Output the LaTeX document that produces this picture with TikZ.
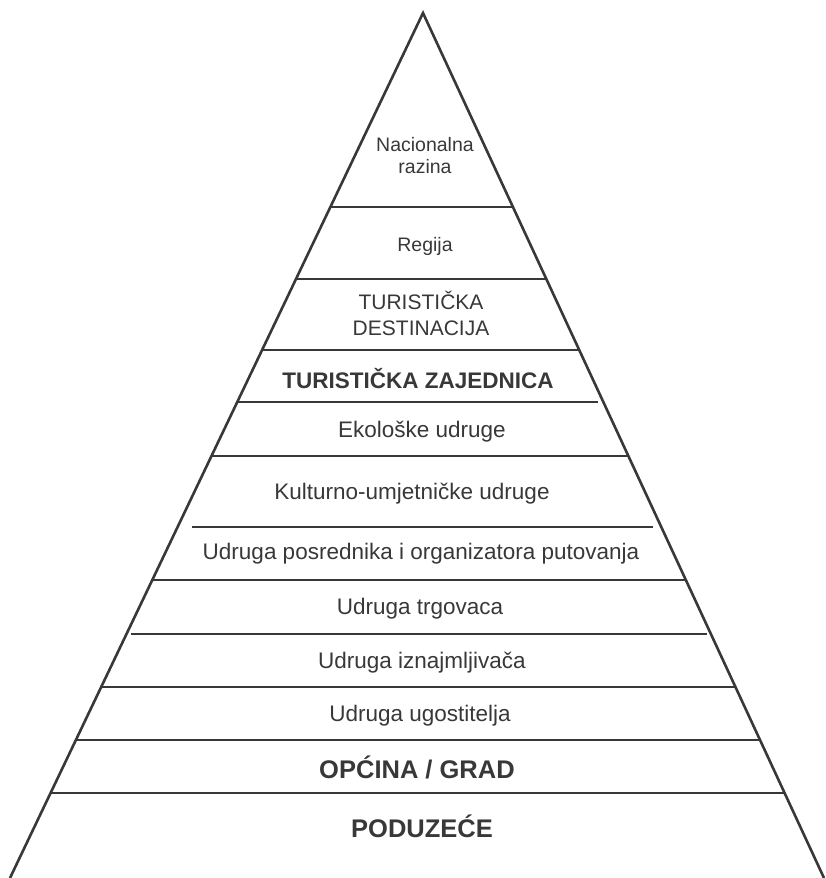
\documentclass[tikz,border=0pt]{standalone}
\usepackage{fontspec}
\setmainfont{Liberation Sans}
\usetikzlibrary{calc}
\definecolor{inkgray}{rgb}{0.22,0.22,0.22}
\tikzset{
  level/.style={text=inkgray, inner sep=0pt, align=center, font=\fontsize{22.5}{26}\selectfont},
  smalllevel/.style={level, font=\fontsize{19.5}{22}\selectfont},
  midlevel/.style={level, font=\fontsize{21}{26}\selectfont},
  boldlevel/.style={level, font=\fontsize{22.5}{26}\selectfont\bfseries},
  baselevel/.style={level, font=\fontsize{25.5}{30}\selectfont\bfseries},
  side/.style={draw=inkgray, line width=2.6pt},
  divider/.style={draw=inkgray, line width=2pt}
}
\begin{document}
\begin{tikzpicture}[x=1pt, y=-1pt]
  \useasboundingbox (0,0) rectangle (825,878);
  \clip (0,0) rectangle (825,878);

  % Pyramid corners
  \coordinate (apex) at (423,13);
  \coordinate (bl) at (10,878);
  \coordinate (br) at (824,878);

  % Drawing pyramid sides
  \draw [side] (bl) -- (apex) -- (br);

  % Drawing level lines (y / left inset / right inset)
  \foreach \y/\l/\r in {207/0/0, 279/0/0, 350/0/0, 402/0/5, 456/0/0,
                        527/14/8, 580/0/0, 634/5/4, 687/0/0, 740/0/0, 793/0/0}{
    \pgfmathsetmacro\xl{423-0.477457*(\y-13)+\l}
    \pgfmathsetmacro\xr{423+0.463584*(\y-13)-\r}
    \coordinate (l\y) at (\xl,\y);
    \coordinate (r\y) at (\xr,\y);
    \draw [divider] (l\y) -- (r\y);
  }

  % Marking levels, top to bottom
  \node [smalllevel] (nacionalna) at (425,156) {Nacionalna\\razina};
  \node [smalllevel] (regija) at (425,246) {Regija};
  \node [midlevel] (destinacija) at (421,313) {TURISTIČKA\\DESTINACIJA};
  \node [boldlevel] (zajednica) at (418,379) {TURISTIČKA ZAJEDNICA};
  \node [level] (ekoloske) at (422,432) {Ekološke udruge};
  \node [level] (kulturne) at (412,494) {Kulturno-umjetničke udruge};
  \node [level] (posrednici) at (421,554) {Udruga posrednika i organizatora putovanja};
  \node [level] (trgovci) at (420,609) {Udruga trgovaca};
  \node [level] (iznajmljivaci) at (422,663) {Udruga iznajmljivača};
  \node [level] (ugostitelji) at (420,716) {Udruga ugostitelja};
  \node [baselevel] (opcina) at (417,767) {OPĆINA / GRAD};
  \node [baselevel] (poduzece) at (422,826) {PODUZEĆE};
\end{tikzpicture}
\end{document}
